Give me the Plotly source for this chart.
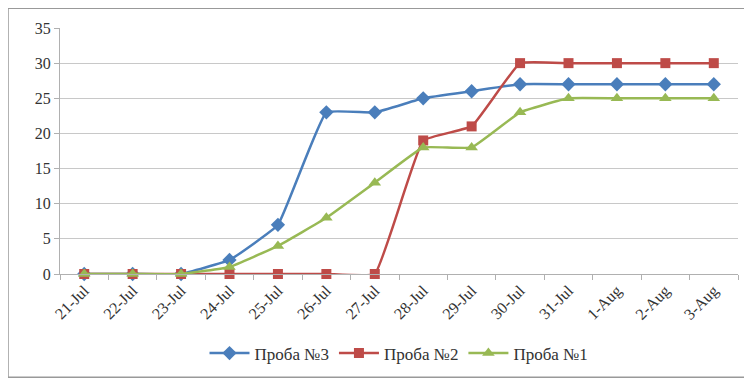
import plotly.graph_objects as go

dates = ["21-Jul", "22-Jul", "23-Jul", "24-Jul", "25-Jul", "26-Jul", "27-Jul",
         "28-Jul", "29-Jul", "30-Jul", "31-Jul", "1-Aug", "2-Aug", "3-Aug"]
proba3 = [0, 0, 0, 2, 7, 23, 23, 25, 26, 27, 27, 27, 27, 27]
proba2 = [0, 0, 0, 0, 0, 0, 0, 19, 21, 30, 30, 30, 30, 30]
proba1 = [0, 0, 0, 1, 4, 8, 13, 18, 18, 23, 25, 25, 25, 25]

series = [
    ("Проба №3", proba3, "#4A7EBB", "diamond", 11),
    ("Проба №2", proba2, "#BE4B48", "square", 10),
    ("Проба №1", proba1, "#98B954", "triangle-up", 11),
]

fig = go.Figure()
for name, vals, color, sym, size in series:
    fig.add_trace(go.Scatter(
        x=dates, y=vals, name=name, mode="lines+markers", cliponaxis=False,
        line=dict(color=color, width=2.5, shape="spline", smoothing=0.3),
        marker=dict(symbol=sym, size=size, color=color),
    ))

SERIF = "Times New Roman, serif"
font = dict(family=SERIF, size=15, color="#333")

fig.update_layout(
    width=744, height=376,
    margin=dict(l=52, r=14, t=20, b=106),
    paper_bgcolor="white", plot_bgcolor="white",
    font=font,
    showlegend=True,
    legend=dict(orientation="h", x=0.5, xanchor="center", y=-0.25, yanchor="top",
                font=dict(size=17, family=SERIF, color="#333"),
                itemwidth=40, traceorder="normal"),
    xaxis=dict(
        type="category", tickangle=-45, showgrid=False, automargin=False,
        showline=True, linecolor="#b0b0b0", linewidth=1,
        ticks="outside", tickson="boundaries", ticklen=5, tickcolor="#b0b0b0",
        tickfont=dict(size=16, family=SERIF), range=[-0.5, 13.5],
    ),
    yaxis=dict(
        range=[0, 35], dtick=5, showgrid=True, gridcolor="#c8c8c8", gridwidth=1,
        showline=True, linecolor="#b0b0b0", linewidth=1, automargin=False,
        ticks="outside", ticklen=5, tickcolor="#b0b0b0",
        tickfont=dict(size=16, family=SERIF), zeroline=False,
    ),
    shapes=[dict(type="rect", xref="paper", yref="paper",
                 x0=-0.0767, x1=1.0103, y0=-0.42, y1=1.08,
                 line=dict(color="#999", width=1.5))],
)

fig.write_html("out.html")
